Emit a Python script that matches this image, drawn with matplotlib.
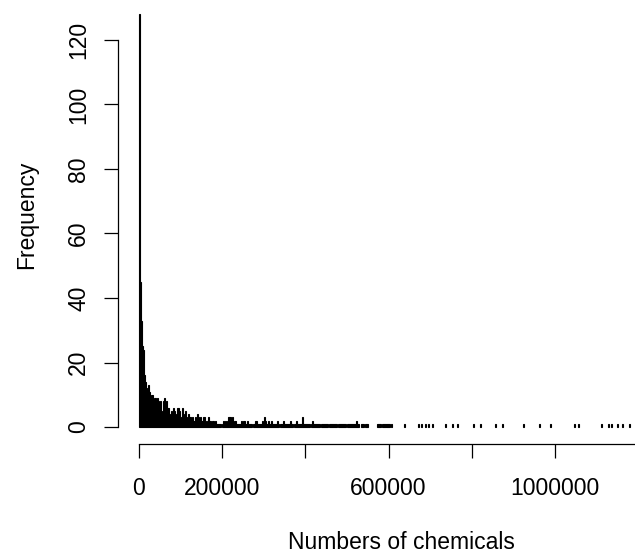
import numpy as np
import matplotlib
matplotlib.use("Agg")
import matplotlib.pyplot as plt

plt.rcParams['font.family'] = ['Liberation Sans', 'DejaVu Sans']

# ---- data (histogram of "Numbers of chemicals") ----
BIN_WIDTH = 2500
N_BINS = 505  # bins cover 0 .. ~1,262,500

# counts of the first bins (0 .. ~142,500)
head_counts = [128, 45, 33, 25, 24, 16, 14, 12, 10, 13, 11, 9, 10, 8, 9, 9, 7, 9, 8, 6,
               8, 5, 4, 8, 9, 7, 8, 6, 6, 4, 3, 5, 4, 6, 5, 4, 3, 6, 5, 3,
               2, 6, 4, 3, 5, 3, 2, 4, 3, 3, 2, 3, 2, 2, 3, 1, 4]

# counts of the following bins (~142,500 .. ~615,000)
mid_counts = [3, 2, 3, 2, 2, 3, 2, 1, 2, 3,
              2, 2, 1, 2, 2, 1, 2, 1, 1, 1,
              1, 1, 0, 1, 2, 1, 2, 1, 2, 3,
              3, 2, 3, 1, 2, 2, 1, 1, 1, 1,
              1, 2, 1, 2, 2, 1, 1, 2, 1, 1,
              1, 1, 0, 1, 1, 2, 1, 1, 1, 1,
              1, 2, 1, 3, 2, 1, 1, 2, 1, 1,
              2, 1, 1, 1, 1, 1, 2, 1, 0, 1,
              1, 2, 1, 1, 1, 1, 1, 1, 2, 1,
              1, 0, 1, 1, 2, 1, 1, 1, 1, 1,
              3, 1, 1, 1, 1, 1, 1, 0, 1, 2,
              1, 1, 1, 1, 1, 1, 1, 0, 1, 1,
              1, 1, 1, 1, 1, 0, 1, 1, 1, 1,
              1, 1, 1, 0, 1, 1, 1, 1, 1, 1,
              1, 1, 0, 1, 1, 1, 1, 1, 1, 1,
              1, 1, 2, 1, 1, 0, 1, 1, 1, 0,
              1, 1, 1, 0, 0, 0, 0, 0, 0, 0,
              0, 0, 1, 1, 1, 1, 0, 1, 1, 1,
              1, 1, 1, 1, 0, 1, 0, 0, 0, 0]

# sparse tail: values (numbers of chemicals) of isolated observations
tail_values = [639000, 671000, 678000, 688000, 695000, 705000, 736000, 753000,
               767000, 803000, 820000, 856000, 873000, 923000, 964000, 988000,
               1046000, 1055000, 1111000, 1128000, 1137000, 1151000, 1161000, 1178000]

x_ticks = [0, 200000, 400000, 600000, 800000, 1000000, 1200000]
x_tick_labels = ["0", "200000", "", "600000", "", "1000000", ""]
y_ticks = [0, 20, 40, 60, 80, 100, 120]

# ---- assemble bin counts ----
counts = np.zeros(N_BINS)
counts[:len(head_counts)] = head_counts
counts[len(head_counts):len(head_counts) + len(mid_counts)] = mid_counts
for v in tail_values:
    counts[int(v // BIN_WIDTH)] += 1
edges = np.arange(N_BINS) * BIN_WIDTH

# ---- figure ----
W, H = 635, 553
fig = plt.figure(figsize=(W / 100, H / 100), dpi=100)
ax = fig.add_axes([118 / W, (H - 444) / H, (685 - 118) / W, 459 / H])

mask = counts > 0
ax.bar(edges[mask], counts[mask], width=BIN_WIDTH, align='edge',
       color='black', edgecolor='black', linewidth=0.8)

ax.set_xlim(-50480, 1312500)
ax.set_ylim(-5.27, 137.05)

for s in ['top', 'right']:
    ax.spines[s].set_visible(False)
ax.spines['left'].set_bounds(0, 120)
ax.spines['bottom'].set_bounds(0, 1200000)
for s in ['left', 'bottom']:
    ax.spines[s].set_linewidth(0.9)

ax.set_xticks(x_ticks)
ax.set_xticklabels(x_tick_labels)
ax.set_yticks(y_ticks)
ax.set_yticklabels([str(t) for t in y_ticks], rotation=90, va='center')
ax.tick_params(axis='both', length=10, width=0.9, labelsize=16.5, colors='black')
ax.tick_params(axis='x', pad=14)
ax.tick_params(axis='y', pad=10)

ax.set_xlabel("Numbers of chemicals", fontsize=16.5, labelpad=22)
ax.set_ylabel("Frequency", fontsize=16.5, labelpad=21)

fig.savefig("out.png", dpi=100)
